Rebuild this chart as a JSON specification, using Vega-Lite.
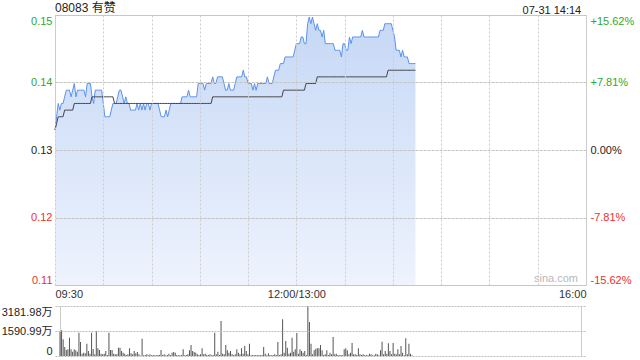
{
 "$schema": "https://vega.github.io/schema/vega-lite/v6.json",
 "padding": {"left": 1, "top": 1, "right": 1, "bottom": 2},
 "background": "white",
 "config": {
  "font": "Liberation Sans, Noto Sans CJK SC",
  "view": {"stroke": "#cccccc"},
  "axis": {"ticks": false, "domain": false, "labelFontSize": 11, "labelColor": "#333333", "labelFont": "Liberation Sans, Noto Sans CJK SC", "gridOpacity": 1},
  "title": {"font": "Liberation Sans, Noto Sans CJK SC", "fontWeight": "normal", "color": "#222222"}
 },
 "title": {"text": "07-31 14:14", "anchor": "end", "fontSize": 11, "dx": -53, "dy": 14, "offset": 0},
 "spacing": 21,
 "bounds": "flush",
 "datasets": {"d": [
  {"m":0,"p":0.133,"a":0.133,"v":1549},{"m":1,"p":0.135,"a":0.134,"v":1633},{"m":2,"p":0.137,"a":0.135,"v":1061},{"m":3,"p":0.136,"a":0.135,"v":573},{"m":4,"p":0.137,"a":0.135,"v":382},
  {"m":5,"p":0.137,"a":0.135,"v":424},{"m":6,"p":0.138,"a":0.136,"v":1167},{"m":7,"p":0.139,"a":0.136,"v":424},{"m":8,"p":0.139,"a":0.136,"v":276},{"m":9,"p":0.139,"a":0.136,"v":424},
  {"m":10,"p":0.138,"a":0.136,"v":361},{"m":11,"p":0.139,"a":0.136,"v":276},{"m":12,"p":0.140,"a":0.137,"v":1485},{"m":13,"p":0.138,"a":0.137,"v":891},{"m":14,"p":0.139,"a":0.137,"v":148},
  {"m":15,"p":0.139,"a":0.137,"v":212},{"m":16,"p":0.139,"a":0.137,"v":170},{"m":17,"p":0.139,"a":0.137,"v":785},{"m":18,"p":0.139,"a":0.137,"v":318},{"m":19,"p":0.138,"a":0.137,"v":148},
  {"m":20,"p":0.140,"a":0.137,"v":1485},{"m":21,"p":0.140,"a":0.137,"v":445},{"m":22,"p":0.140,"a":0.137,"v":106},{"m":23,"p":0.138,"a":0.138,"v":1591},{"m":24,"p":0.137,"a":0.138,"v":488},
  {"m":25,"p":0.139,"a":0.138,"v":382},{"m":26,"p":0.139,"a":0.138,"v":148},{"m":27,"p":0.139,"a":0.138,"v":106},{"m":28,"p":0.139,"a":0.138,"v":148},{"m":29,"p":0.139,"a":0.138,"v":318},
  {"m":30,"p":0.137,"a":0.138,"v":64},{"m":31,"p":0.135,"a":0.138,"v":1485},{"m":32,"p":0.135,"a":0.138,"v":382},{"m":33,"p":0.135,"a":0.138,"v":382},{"m":34,"p":0.135,"a":0.138,"v":148},
  {"m":35,"p":0.136,"a":0.138,"v":106},{"m":36,"p":0.137,"a":0.138,"v":106},{"m":37,"p":0.137,"a":0.137,"v":530},{"m":38,"p":0.137,"a":0.137,"v":530},{"m":39,"p":0.138,"a":0.137,"v":318},
  {"m":40,"p":0.139,"a":0.137,"v":212},{"m":41,"p":0.139,"a":0.137,"v":148},{"m":42,"p":0.138,"a":0.137,"v":64},{"m":43,"p":0.137,"a":0.137,"v":106},{"m":44,"p":0.138,"a":0.137,"v":488},
  {"m":45,"p":0.137,"a":0.137,"v":170},{"m":46,"p":0.137,"a":0.137,"v":106},{"m":47,"p":0.136,"a":0.137,"v":318},{"m":48,"p":0.136,"a":0.137,"v":170},{"m":49,"p":0.136,"a":0.137,"v":255},
  {"m":50,"p":0.136,"a":0.137,"v":106},{"m":51,"p":0.137,"a":0.137,"v":20},{"m":52,"p":0.136,"a":0.137,"v":1103},{"m":53,"p":0.137,"a":0.137,"v":42},{"m":54,"p":0.136,"a":0.137,"v":64},
  {"m":55,"p":0.137,"a":0.137,"v":106},{"m":56,"p":0.136,"a":0.137,"v":42},{"m":57,"p":0.137,"a":0.137,"v":106},{"m":58,"p":0.137,"a":0.137,"v":42},{"m":59,"p":0.136,"a":0.137,"v":64},
  {"m":60,"p":0.137,"a":0.137,"v":42},{"m":61,"p":0.137,"a":0.137,"v":42},{"m":62,"p":0.137,"a":0.137,"v":64},{"m":63,"p":0.137,"a":0.137,"v":64},{"m":64,"p":0.137,"a":0.137,"v":382},
  {"m":65,"p":0.136,"a":0.137,"v":64},{"m":66,"p":0.135,"a":0.137,"v":106},{"m":67,"p":0.135,"a":0.137,"v":42},{"m":68,"p":0.135,"a":0.137,"v":64},{"m":69,"p":0.136,"a":0.137,"v":148},
  {"m":70,"p":0.135,"a":0.137,"v":42},{"m":71,"p":0.136,"a":0.137,"v":212},{"m":72,"p":0.137,"a":0.137,"v":255},{"m":73,"p":0.137,"a":0.137,"v":212},{"m":74,"p":0.137,"a":0.137,"v":64},
  {"m":75,"p":0.137,"a":0.137,"v":42},{"m":76,"p":0.137,"a":0.137,"v":42},{"m":77,"p":0.137,"a":0.137,"v":64},{"m":78,"p":0.137,"a":0.137,"v":424},{"m":79,"p":0.138,"a":0.137,"v":42},
  {"m":80,"p":0.138,"a":0.137,"v":64},{"m":81,"p":0.138,"a":0.137,"v":106},{"m":82,"p":0.138,"a":0.137,"v":361},{"m":83,"p":0.139,"a":0.137,"v":700},{"m":84,"p":0.138,"a":0.137,"v":318},
  {"m":85,"p":0.138,"a":0.137,"v":255},{"m":86,"p":0.138,"a":0.137,"v":212},{"m":87,"p":0.138,"a":0.137,"v":106},{"m":88,"p":0.138,"a":0.137,"v":64},{"m":89,"p":0.140,"a":0.137,"v":106},
  {"m":90,"p":0.140,"a":0.137,"v":488},{"m":91,"p":0.140,"a":0.137,"v":106},{"m":92,"p":0.140,"a":0.137,"v":148},{"m":93,"p":0.139,"a":0.137,"v":64},{"m":94,"p":0.140,"a":0.137,"v":64},
  {"m":95,"p":0.140,"a":0.137,"v":106},{"m":96,"p":0.140,"a":0.137,"v":42},{"m":97,"p":0.140,"a":0.137,"v":64},{"m":98,"p":0.141,"a":0.138,"v":1485},{"m":99,"p":0.140,"a":0.138,"v":106},
  {"m":100,"p":0.140,"a":0.138,"v":276},{"m":101,"p":0.141,"a":0.138,"v":64},{"m":102,"p":0.141,"a":0.138,"v":2227},{"m":103,"p":0.141,"a":0.138,"v":148},{"m":104,"p":0.141,"a":0.138,"v":106},
  {"m":105,"p":0.140,"a":0.138,"v":700},{"m":106,"p":0.139,"a":0.138,"v":361},{"m":107,"p":0.139,"a":0.138,"v":212},{"m":108,"p":0.140,"a":0.138,"v":318},{"m":109,"p":0.139,"a":0.138,"v":106},
  {"m":110,"p":0.139,"a":0.138,"v":42},{"m":111,"p":0.139,"a":0.138,"v":106},{"m":112,"p":0.140,"a":0.138,"v":424},{"m":113,"p":0.141,"a":0.138,"v":212},{"m":114,"p":0.141,"a":0.138,"v":106},
  {"m":115,"p":0.141,"a":0.138,"v":488},{"m":116,"p":0.141,"a":0.138,"v":148},{"m":117,"p":0.142,"a":0.138,"v":636},{"m":118,"p":0.141,"a":0.138,"v":318},{"m":119,"p":0.141,"a":0.138,"v":106},
  {"m":120,"p":0.140,"a":0.138,"v":785},{"m":121,"p":0.140,"a":0.138,"v":42},{"m":122,"p":0.140,"a":0.138,"v":64},{"m":123,"p":0.139,"a":0.138,"v":42},{"m":124,"p":0.140,"a":0.138,"v":64},
  {"m":125,"p":0.139,"a":0.138,"v":42},{"m":126,"p":0.140,"a":0.138,"v":64},{"m":127,"p":0.140,"a":0.138,"v":42},{"m":128,"p":0.140,"a":0.138,"v":64},{"m":129,"p":0.140,"a":0.138,"v":573},
  {"m":130,"p":0.140,"a":0.138,"v":148},{"m":131,"p":0.140,"a":0.138,"v":42},{"m":132,"p":0.141,"a":0.138,"v":170},{"m":133,"p":0.140,"a":0.138,"v":64},{"m":134,"p":0.140,"a":0.138,"v":42},
  {"m":135,"p":0.140,"a":0.138,"v":64},{"m":136,"p":0.141,"a":0.138,"v":106},{"m":137,"p":0.142,"a":0.138,"v":64},{"m":138,"p":0.142,"a":0.138,"v":891},{"m":139,"p":0.142,"a":0.138,"v":64},
  {"m":140,"p":0.143,"a":0.138,"v":106},{"m":141,"p":0.143,"a":0.138,"v":2333},{"m":142,"p":0.143,"a":0.139,"v":212},{"m":143,"p":0.144,"a":0.139,"v":955},{"m":144,"p":0.144,"a":0.139,"v":530},
  {"m":145,"p":0.144,"a":0.139,"v":148},{"m":146,"p":0.144,"a":0.139,"v":212},{"m":147,"p":0.144,"a":0.139,"v":1167},{"m":148,"p":0.144,"a":0.139,"v":276},{"m":149,"p":0.145,"a":0.139,"v":424},
  {"m":150,"p":0.146,"a":0.139,"v":1464},{"m":151,"p":0.146,"a":0.139,"v":148},{"m":152,"p":0.146,"a":0.139,"v":424},{"m":153,"p":0.147,"a":0.139,"v":318},{"m":154,"p":0.147,"a":0.139,"v":212},
  {"m":155,"p":0.146,"a":0.139,"v":318},{"m":156,"p":0.146,"a":0.140,"v":64},{"m":157,"p":0.149,"a":0.140,"v":3181.98},{"m":158,"p":0.150,"a":0.140,"v":2164},{"m":159,"p":0.149,"a":0.140,"v":785},
  {"m":160,"p":0.150,"a":0.140,"v":106},{"m":161,"p":0.149,"a":0.140,"v":361},{"m":162,"p":0.148,"a":0.140,"v":467},{"m":163,"p":0.149,"a":0.141,"v":488},{"m":164,"p":0.148,"a":0.141,"v":488},
  {"m":165,"p":0.148,"a":0.141,"v":700},{"m":166,"p":0.147,"a":0.141,"v":361},{"m":167,"p":0.148,"a":0.141,"v":64},{"m":168,"p":0.146,"a":0.141,"v":106},{"m":169,"p":0.146,"a":0.141,"v":361},
  {"m":170,"p":0.146,"a":0.141,"v":64},{"m":171,"p":0.146,"a":0.141,"v":212},{"m":172,"p":0.146,"a":0.141,"v":106},{"m":173,"p":0.146,"a":0.141,"v":1209},{"m":174,"p":0.145,"a":0.141,"v":106},
  {"m":175,"p":0.145,"a":0.141,"v":148},{"m":176,"p":0.145,"a":0.141,"v":64},{"m":177,"p":0.145,"a":0.141,"v":42},{"m":178,"p":0.144,"a":0.141,"v":64},{"m":179,"p":0.146,"a":0.141,"v":42},
  {"m":180,"p":0.146,"a":0.141,"v":424},{"m":181,"p":0.145,"a":0.141,"v":488},{"m":182,"p":0.145,"a":0.141,"v":361},{"m":183,"p":0.147,"a":0.141,"v":106},{"m":184,"p":0.146,"a":0.141,"v":212},
  {"m":185,"p":0.147,"a":0.141,"v":827},{"m":186,"p":0.147,"a":0.141,"v":106},{"m":187,"p":0.147,"a":0.141,"v":106},{"m":188,"p":0.147,"a":0.141,"v":64},{"m":189,"p":0.147,"a":0.141,"v":488},
  {"m":190,"p":0.147,"a":0.141,"v":106},{"m":191,"p":0.148,"a":0.141,"v":64},{"m":192,"p":0.147,"a":0.141,"v":106},{"m":193,"p":0.147,"a":0.141,"v":42},{"m":194,"p":0.147,"a":0.141,"v":64},
  {"m":195,"p":0.147,"a":0.141,"v":42},{"m":196,"p":0.147,"a":0.141,"v":148},{"m":197,"p":0.147,"a":0.141,"v":106},{"m":198,"p":0.147,"a":0.141,"v":42},{"m":199,"p":0.147,"a":0.141,"v":42},
  {"m":200,"p":0.147,"a":0.141,"v":148},{"m":201,"p":0.147,"a":0.141,"v":106},{"m":202,"p":0.148,"a":0.141,"v":42},{"m":203,"p":0.148,"a":0.141,"v":361},{"m":204,"p":0.148,"a":0.141,"v":912},
  {"m":205,"p":0.149,"a":0.141,"v":106},{"m":206,"p":0.149,"a":0.141,"v":318},{"m":207,"p":0.149,"a":0.142,"v":148},{"m":208,"p":0.149,"a":0.142,"v":806},{"m":209,"p":0.149,"a":0.142,"v":318},
  {"m":210,"p":0.148,"a":0.142,"v":106},{"m":211,"p":0.147,"a":0.142,"v":827},{"m":212,"p":0.145,"a":0.142,"v":148},{"m":213,"p":0.145,"a":0.142,"v":106},{"m":214,"p":0.145,"a":0.142,"v":424},
  {"m":215,"p":0.144,"a":0.142,"v":106},{"m":216,"p":0.145,"a":0.142,"v":636},{"m":217,"p":0.144,"a":0.142,"v":212},{"m":218,"p":0.144,"a":0.142,"v":42},{"m":219,"p":0.144,"a":0.142,"v":1124},
  {"m":220,"p":0.143,"a":0.142,"v":106},{"m":221,"p":0.143,"a":0.142,"v":785},{"m":222,"p":0.143,"a":0.142,"v":148},{"m":223,"p":0.143,"a":0.142,"v":42},{"m":224,"p":0.143,"a":0.142}
 ]},
 "vconcat": [
  {
   "width": 531,
   "height": 270,
   "title": {"text": "08083 有赞", "anchor": "start", "frame": "group", "fontSize": 12, "offset": 0},
   "data": {"name": "d"},
   "encoding": {
    "x": {"field": "m", "type": "quantitative", "scale": {"domain": [0, 330], "nice": false, "zero": false},
     "axis": {"values": [0, 30, 60, 90, 120, 150, 180, 210, 240, 270, 300, 330], "grid": true, "gridColor": "#cdcdcd", "gridDash": [2, 2], "zindex": 1, "labelExpr": "datum.value == 0 ? '09:30' : datum.value == 150 ? '12:00/13:00' : datum.value == 330 ? '16:00' : ''", "labelFlush": true, "labelOverlap": false, "labelPadding": 3, "title": null}}
   },
   "layer": [
    {
     "mark": {"type": "area", "color": {"gradient": "linear", "x1": 0, "y1": 0, "x2": 0, "y2": 1, "stops": [{"offset": 0, "color": "#c6d8f6"}, {"offset": 1, "color": "#eef3fd"}]}},
     "encoding": {
      "y": {"field": "p", "type": "quantitative", "scale": {"domain": [0.109694, 0.150306], "nice": false, "zero": false},
       "axis": {"orient": "left", "values": [0.109694, 0.119847, 0.13, 0.140153, 0.150306], "format": ".2f", "grid": true, "gridColor": "#c4c4c4", "gridDash": [2, 2], "zindex": 1, "labelFlush": true, "labelPadding": 3, "title": null,
        "labelColor": {"condition": [{"test": "datum.value > 0.1301", "value": "#2ea82e"}, {"test": "datum.value < 0.1299", "value": "#ee3030"}], "value": "#222222"}}},
      "y2": {"datum": 0.109694}
     }
    },
    {
     "mark": {"type": "line", "color": "#5a92ee", "strokeWidth": 1},
     "encoding": {
      "y": {"field": "p", "type": "quantitative",
       "axis": {"orient": "right", "values": [0.109694, 0.119847, 0.13, 0.140153, 0.150306], "grid": true, "gridColor": "#c4c4c4", "gridDash": [2, 2], "zindex": 1, "labelFlush": true, "labelPadding": 4, "title": null,
        "labelExpr": "datum.value > 0.145 ? '+15.62%' : datum.value > 0.135 ? '+7.81%' : datum.value > 0.125 ? '0.00%' : datum.value > 0.115 ? '-7.81%' : '-15.62%'",
        "labelColor": {"condition": [{"test": "datum.value > 0.1301", "value": "#2ea82e"}, {"test": "datum.value < 0.1299", "value": "#ee3030"}], "value": "#222222"}}}
     }
    },
    {
     "mark": {"type": "line", "color": "#444444", "strokeWidth": 1},
     "encoding": {"y": {"field": "a", "type": "quantitative", "axis": null}}
    },
    {
     "data": {"values": [{"label": "sina.com", "xv": 330, "yv": 0.109694}]},
     "mark": {"type": "text", "color": "#b8b8b8", "fontSize": 11, "align": "right", "baseline": "bottom", "dx": -8, "dy": -1},
     "encoding": {
      "x": {"field": "xv", "type": "quantitative"},
      "y": {"field": "yv", "type": "quantitative", "axis": null},
      "text": {"field": "label", "type": "nominal"}
     }
    }
   ],
   "resolve": {"axis": {"y": "independent"}}
  },
  {
   "width": 531,
   "height": 50,
   "view": {"stroke": null},
   "data": {"name": "d"},
   "mark": {"type": "bar", "width": 1, "color": "#555555"},
   "encoding": {
    "x": {"field": "m", "type": "quantitative", "scale": {"domain": [0, 330], "nice": false, "zero": false},
     "axis": {"values": [0, 330], "labels": false, "grid": true, "gridColor": "#cccccc", "gridDash": [], "title": null}},
    "y": {"field": "v", "type": "quantitative", "scale": {"domain": [0, 3181.98], "nice": false},
     "axis": {"values": [0, 1590.99, 3181.98], "labelExpr": "datum.value == 0 ? '0' : format(datum.value, '.2f') + '万'", "grid": true, "gridColor": "#bdbdbd", "gridDash": [2, 1], "zindex": 1, "labelFlush": true, "labelPadding": 3, "title": null, "labelColor": "#222222"}}
   }
  }
 ]
}
